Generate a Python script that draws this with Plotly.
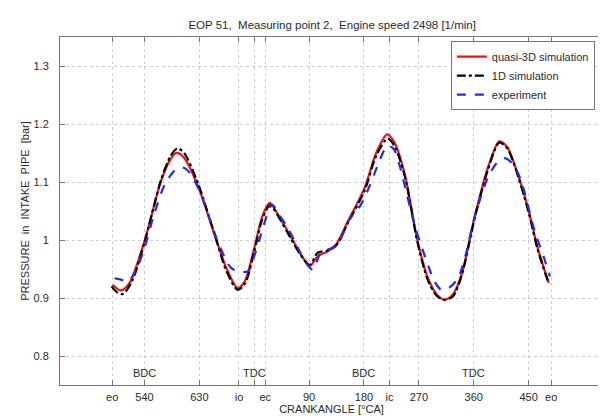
import plotly.graph_objects as go

# Crank angle on a continuous scale (540..1170 == 540,630,...,90,...,450 °CA)
angle_q3d = [488, 501, 515, 540, 567, 582, 592, 604, 627, 655, 675, 693, 705, 720, 733, 745, 760, 775, 795, 811,
             824, 840, 854, 874, 901, 920, 938, 950, 967, 988, 1005, 1020, 1032, 1045, 1060, 1081, 1103, 1122, 1135,
             1147, 1169, 1185, 1203]
p_q3d = [0.923, 0.913, 0.925, 0.998, 1.101, 1.138, 1.150, 1.143, 1.095, 1.009, 0.950, 0.917, 0.930, 0.986, 1.040,
         1.064, 1.042, 1.015, 0.978, 0.955, 0.972, 0.980, 0.992, 1.033, 1.090, 1.150, 1.182, 1.168, 1.113, 0.998,
         0.934, 0.905, 0.897, 0.905, 0.940, 1.038, 1.124, 1.170, 1.160, 1.130, 1.055, 0.986, 0.926]

angle_1d = [486, 495, 505, 520, 540, 567, 583, 594, 605, 627, 655, 675, 693, 705, 720, 733, 746, 760, 775, 795,
            811, 824, 840, 854, 874, 901, 920, 939, 951, 967, 988, 1005, 1020, 1033, 1046, 1060, 1081, 1103, 1122,
            1135, 1147, 1169, 1185, 1203]
p_1d = [0.920, 0.910, 0.907, 0.930, 0.995, 1.103, 1.145, 1.158, 1.150, 1.100, 1.010, 0.945, 0.914, 0.925, 0.980,
        1.035, 1.060, 1.040, 1.012, 0.976, 0.957, 0.978, 0.982, 0.990, 1.030, 1.085, 1.145, 1.175, 1.160, 1.110,
        0.995, 0.930, 0.903, 0.897, 0.903, 0.938, 1.035, 1.120, 1.168, 1.158, 1.128, 1.052, 0.983, 0.925]

angle_exp = [491, 500, 513, 525, 540, 556, 573, 590, 603, 615, 633, 660, 682, 696, 710, 720, 731, 749, 760, 775,
             790, 803, 816, 830, 845, 857, 874, 895, 910, 923, 938, 948, 958, 983, 1005, 1015, 1027, 1040, 1054,
             1067, 1081, 1103, 1118, 1131, 1145, 1158, 1180, 1195, 1205]
p_exp = [0.934, 0.932, 0.929, 0.945, 0.986, 1.045, 1.095, 1.120, 1.125, 1.115, 1.078, 0.998, 0.952, 0.946, 0.946,
         0.972, 1.009, 1.061, 1.045, 1.021, 0.990, 0.963, 0.949, 0.980, 0.985, 0.992, 1.032, 1.061, 1.095, 1.130,
         1.162, 1.158, 1.130, 1.026, 0.957, 0.930, 0.914, 0.918, 0.934, 0.975, 1.038, 1.107, 1.133, 1.141, 1.130,
         1.101, 1.015, 0.970, 0.937]

tick_vals = [487, 540, 630, 695, 720, 738, 810, 900, 942, 990, 1080, 1170, 1207]
tick_text = ["eo", "540", "630", "io", "", "ec", "90", "180", "ic", "270", "360", "450", "eo"]

dead_centre_angles = [540, 720, 900, 1080]
dead_centre_labels = ["BDC", "TDC", "BDC", "TDC"]

FONT = "Arial, Liberation Sans, sans-serif"
TXT = "#2b2b2b"

fig = go.Figure()
fig.add_trace(go.Scatter(x=angle_q3d, y=p_q3d, mode="lines", name="quasi-3D simulation",
                         line=dict(color="#e8141c", width=2.2, shape="spline", smoothing=0.8)))
fig.add_trace(go.Scatter(x=angle_1d, y=p_1d, mode="lines", name="1D simulation",
                         line=dict(color="black", width=2.2, dash="dashdot", shape="spline", smoothing=0.8)))
fig.add_trace(go.Scatter(x=angle_exp, y=p_exp, mode="lines", name="experiment",
                         line=dict(color="#1f2ee6", width=2.2, dash="dash", shape="spline", smoothing=0.8)))

for a, lab in zip(dead_centre_angles, dead_centre_labels):
    fig.add_annotation(x=a, y=0.7707, text=lab, showarrow=False, xanchor="center", yanchor="middle",
                       font=dict(size=11, color=TXT, family=FONT))

fig.update_layout(
    width=606, height=416,
    margin=dict(l=52, r=11, t=29, b=39),
    paper_bgcolor="white", plot_bgcolor="white",
    font=dict(family=FONT, size=11, color=TXT),
    title=dict(text="EOP 51,  Measuring point 2,  Engine speed 2498 [1/min]", x=0.535, xanchor="center",
               y=1 - 17 / 416, yanchor="middle", font=dict(size=11.5, color=TXT, family=FONT)),
    showlegend=True,
    legend=dict(x=0.985, y=0.988, xanchor="right", yanchor="top", bgcolor="white",
                bordercolor="#777777", borderwidth=1, font=dict(size=11, color=TXT, family=FONT),
                tracegroupgap=0, itemwidth=30),
)
fig.update_xaxes(range=[401.5, 1292], tickmode="array", tickvals=tick_vals, ticktext=tick_text,
                 ticks="inside", ticklen=5, tickcolor="#777777", mirror="ticks", showline=True,
                 linecolor="#777777", linewidth=1, showgrid=True, gridcolor="#cfcfcf", griddash="dot",
                 gridwidth=1, zeroline=False, ticklabelstandoff=2,
                 title=dict(text="CRANKANGLE [°CA]", standoff=1, font=dict(size=11, color=TXT)),
                 tickfont=dict(size=11, color=TXT))
fig.update_yaxes(range=[0.75, 1.35], tickmode="array", tickvals=[0.8, 0.9, 1.0, 1.1, 1.2, 1.3],
                 ticktext=["0.8", "0.9", "1", "1.1", "1.2", "1.3"],
                 ticks="inside", ticklen=5, tickcolor="#777777", mirror="ticks", showline=True,
                 linecolor="#777777", linewidth=1, showgrid=True, gridcolor="#cfcfcf", griddash="dot",
                 gridwidth=1, zeroline=False, ticklabelstandoff=8,
                 title=dict(text="PRESSURE  in  INTAKE  PIPE  [bar]", standoff=1, font=dict(size=11, color=TXT)),
                 tickfont=dict(size=11, color=TXT))

fig.write_html("out.html")
